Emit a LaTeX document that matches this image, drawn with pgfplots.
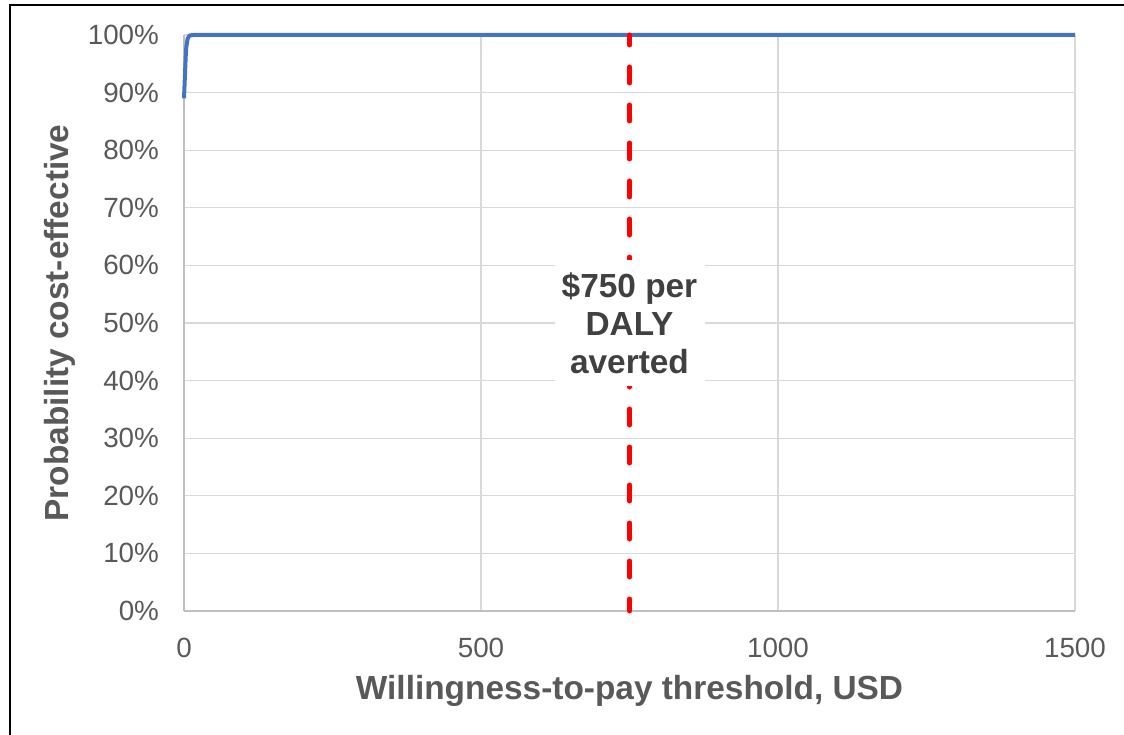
\documentclass[border=0pt]{standalone}
\usepackage{pgfplots}
\pgfplotsset{compat=1.18}
\usepackage{fontspec}
\setmainfont{Liberation Sans}
\definecolor{tickgray}{HTML}{595959}
\definecolor{labgray}{HTML}{595959}
\definecolor{txtdark}{HTML}{404040}
\definecolor{gridgray}{HTML}{D9D9D9}
\definecolor{axgray}{HTML}{BFBFBF}
\definecolor{xlblue}{HTML}{4472C4}
\begin{document}
\begin{tikzpicture}[x=1pt,y=1pt]
\path[use as bounding box] (-92,-61.5) rectangle (470,305.5);
\draw[black, line width=0.8pt] (-87,-62) -- (-87,303) -- (471,303);
\begin{axis}[
  scale only axis,
  width=445.5pt, height=288pt,
  at={(0,0)}, anchor=south west,
  xmin=0, xmax=1500, ymin=0, ymax=100,
  xtick={0,500,1000,1500},
  ytick={0,10,...,100},
  yticklabel={\pgfmathprintnumber{\tick}\%},
  /pgf/number format/assume math mode=true,
  /pgf/number format/1000 sep={},
  grid=major,
  major grid style={gridgray, line width=0.65pt},
  axis lines*=left,
  axis line style={axgray, line width=0.65pt},
  x axis line style={-}, y axis line style={-},
  tick style={draw=none},
  ticklabel style={font=\fontsize{13.9}{16}\selectfont, text=tickgray},
  xticklabel style={yshift=-10pt},
  yticklabel style={xshift=-9pt},
  xlabel={Willingness-to-pay threshold, USD},
  ylabel={Probability cost-effective},
  label style={font=\bfseries\fontsize{16.7}{19}\selectfont, text=labgray},
  xlabel style={at={(axis description cs:0.5,0)}, anchor=center, yshift=-40pt},
  ylabel style={at={(axis description cs:0,0.5)}, anchor=center, yshift=62pt},
  clip=false,
]
\addplot[xlblue, line width=2pt, line join=round] coordinates {
(0,89) (1,91.5) (2,94) (3,96.5) (4,98) (6,99.3) (9,99.9) (15,100) (1500,100)
};
\addplot[red, line width=2.5pt, line cap=round, dash pattern=on 8pt off 11pt, dash phase=3pt] coordinates {
(750,100) (750,0)
};
\node[fill=white, minimum width=75pt, minimum height=62.5pt, align=center, inner sep=0pt,
  font=\bfseries\fontsize{16.7}{19}\selectfont, text=txtdark] at (axis cs:750,50)
  {\$750 per\\DALY\\averted};
\end{axis}
\end{tikzpicture}
\end{document}
